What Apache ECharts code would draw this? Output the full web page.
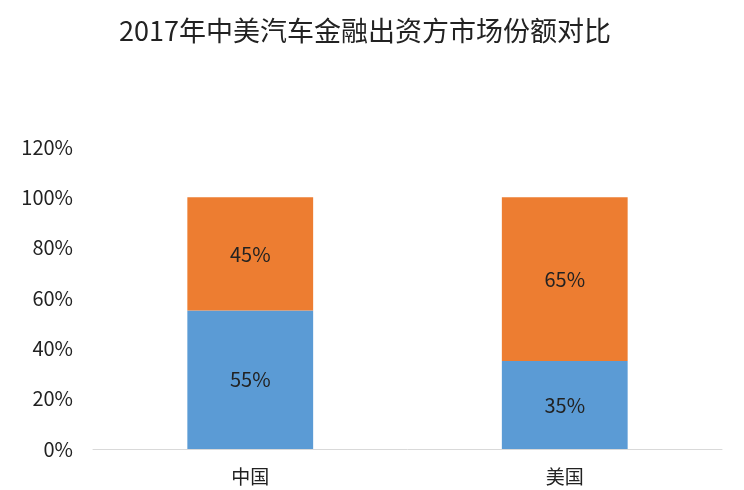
<!DOCTYPE html>
<html>
<head>
<meta charset="utf-8">
<script src="https://cdn.jsdelivr.net/npm/echarts@6/dist/echarts.min.js"></script>
<style>
  html, body { margin: 0; padding: 0; background: #fff; }
  #chart { width: 744px; height: 490px; }
</style>
</head>
<body>
<div id="chart"></div>
<script>
// chart data
var categories = ['中国', '美国'];
var lowerShare = [55, 35];   // blue segment
var upperShare = [45, 65];   // orange segment
var yTicks = [0, 20, 40, 60, 80, 100, 120];

var fontFamily = '"Noto Sans CJK SC", "Noto Sans", sans-serif';

var chart = echarts.init(document.getElementById('chart'));

var option = {
    backgroundColor: '#ffffff',
    animation: false,
    title: {
        text: '2017年中美汽车金融出资方市场份额对比',
        left: 360,
        textAlign: 'center',
        top: 12,
        textStyle: { fontFamily: fontFamily, fontSize: 27, fontWeight: 'normal', color: '#222' }
    },
    grid: { left: 93, right: 22, top: 147, bottom: 41, containLabel: false },
    xAxis: {
        type: 'category',
        data: categories,
        axisLine: { lineStyle: { color: '#d9d9d9', width: 1 } },
        axisTick: { show: false },
        axisLabel: { fontFamily: fontFamily, fontSize: 19, color: '#222', margin: 18 }
    },
    yAxis: {
        type: 'value',
        min: yTicks[0],
        max: yTicks[yTicks.length - 1],
        interval: 20,
        splitLine: { show: false },
        axisLine: { show: false },
        axisTick: { show: false },
        axisLabel: {
            fontFamily: fontFamily, fontSize: 20, color: '#222', margin: 20,
            formatter: function (v) { return v + '%'; }
        }
    },
    series: [
        {
            type: 'bar',
            stack: 'share',
            data: lowerShare,
            barWidth: '40%',
            itemStyle: { color: '#5b9bd5' },
            label: {
                show: true, position: 'inside', fontFamily: fontFamily, fontSize: 20, color: '#222',
                formatter: function (p) { return p.value + '%'; }
            }
        },
        {
            type: 'bar',
            stack: 'share',
            data: upperShare,
            barWidth: '40%',
            itemStyle: { color: '#ed7d31' },
            label: {
                show: true, position: 'inside', fontFamily: fontFamily, fontSize: 20, color: '#222',
                formatter: function (p) { return p.value + '%'; }
            }
        }
    ]
};

chart.setOption(option);
</script>
</body>
</html>
